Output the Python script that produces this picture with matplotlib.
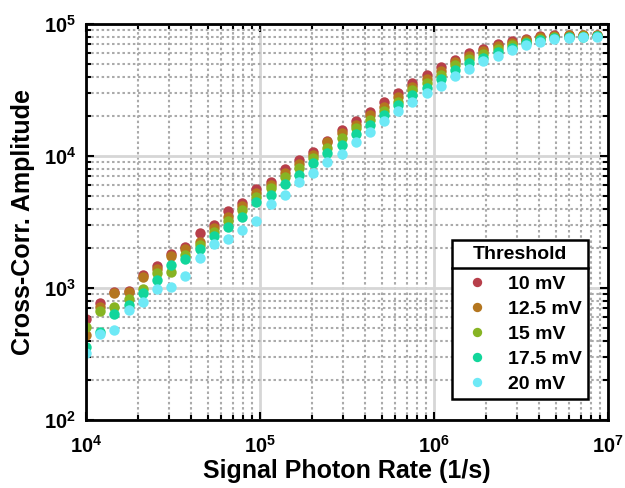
import numpy as np
import matplotlib
matplotlib.use("Agg")
import matplotlib.pyplot as plt
from matplotlib.lines import Line2D

plt.rcParams['font.family'] = ['Liberation Sans', 'DejaVu Sans']
plt.rcParams['font.weight'] = 'bold'
plt.rcParams['mathtext.fontset'] = 'custom'
plt.rcParams['mathtext.rm'] = 'Liberation Sans:bold'
plt.rcParams['mathtext.bf'] = 'Liberation Sans:bold'
plt.rcParams['mathtext.it'] = 'Liberation Sans:bold:italic'

# signal photon rate (1/s)
rates = [1.000e4, 1.207e4, 1.456e4, 1.757e4, 2.120e4, 2.559e4, 3.088e4, 3.726e4,
         4.496e4, 5.426e4, 6.546e4, 7.900e4, 9.533e4, 1.150e5, 1.388e5, 1.675e5,
         2.021e5, 2.439e5, 2.943e5, 3.551e5, 4.285e5, 5.171e5, 6.240e5, 7.530e5,
         9.087e5, 1.096e6, 1.323e6, 1.597e6, 1.927e6, 2.325e6, 2.805e6, 3.385e6,
         4.085e6, 4.930e6, 5.948e6, 7.178e6, 8.662e6]

# cross-correlation amplitude per threshold
amp_10 = [582, 764, 933, 955, 1254, 1460, 1810, 2056, 2612, 3000, 3828, 4385,
          5623, 6383, 7930, 9330, 10790, 13000, 15740, 18500, 21660, 25520,
          29850, 35550, 40740, 47240, 53830, 59800, 65200, 70500, 74300, 77620,
          81100, 82580, 82580, 82580, 82580]
amp_12_5 = [441, 718, 912, 933, 1211, 1393, 1762, 1972, 2230, 2831, 3467, 4178,
            5212, 6026, 7390, 8690, 10180, 12830, 14860, 17170, 20450, 23620,
            27860, 33500, 38110, 44430, 51520, 57240, 62400, 67600, 71800, 75640,
            79720, 81100, 81850, 81850, 81850]
amp_15 = [507, 670, 718, 826, 991, 1303, 1321, 1778, 2118, 2642, 3219, 3899,
          4920, 5692, 6900, 8070, 9610, 11430, 13620, 16220, 18750, 22030,
          25780, 31620, 35550, 41430, 48500, 54040, 59290, 64700, 69300, 73700,
          77620, 79720, 80420, 81100, 81100]
amp_17_5 = [357, 467, 635, 743, 916, 1159, 1493, 1652, 1958, 2477, 2884, 3467,
            4508, 5023, 6138, 7180, 8810, 10480, 12110, 14600, 17170, 20450,
            24330, 28970, 32580, 38300, 45190, 50350, 55720, 61360, 66370, 71800,
            75640, 78320, 79070, 80420, 80680]
amp_20 = [322, 446, 485, 676, 787, 975, 1026, 1239, 1702, 2155, 2339, 2748,
          3245, 4329, 5070, 6383, 7390, 9060, 10300, 12830, 15280, 18360,
          21930, 25780, 29850, 34200, 40180, 45820, 52180, 57240, 63530, 69300,
          73450, 76960, 77950, 79430, 80170]

labels = ["10 mV", "12.5 mV", "15 mV", "17.5 mV", "20 mV"]
colors = ["#B73F4A", "#B4761F", "#87B423", "#12D69B", "#6EE9F6"]
series = [amp_10, amp_12_5, amp_15, amp_17_5, amp_20]

fig = plt.figure(figsize=(6.25, 4.88), dpi=100)
ax = fig.add_axes([0.1376, 0.1393, 0.835, 0.8115])

for y, c, lab in zip(series, colors, labels):
    ax.plot(rates, y, 'o', color=c, markersize=7.5, markeredgewidth=0, label=lab)

ax.set_xscale('log')
ax.set_yscale('log')
ax.set_xlim(1e4, 1e7)
ax.set_ylim(1e2, 1e5)

ax.set_axisbelow(True)
ax.grid(which='major', color='#d6d6d6', linewidth=2.0, linestyle='-')
ax.grid(which='minor', color='#aaaaaa', linewidth=1.5, linestyle=(0, (1.2, 1.3)))

for s in ax.spines.values():
    s.set_linewidth(2.0)
ax.tick_params(which='both', direction='in', top=True, right=True, width=1.5)
ax.tick_params(which='major', length=6, labelsize=14.5)
ax.tick_params(axis='x', which='major', pad=11)
ax.tick_params(axis='y', which='major', pad=7)
ax.tick_params(which='minor', length=3.5)

ax.set_xlabel("Signal Photon Rate (1/s)", fontsize=18, fontweight='bold', labelpad=1)
ax.set_ylabel("Cross-Corr. Amplitude", fontsize=18, fontweight='bold', labelpad=6)

leg = ax.legend(title="Threshold", loc='lower right', bbox_to_anchor=(0.962, 0.053),
                borderaxespad=0,
                fontsize=14, title_fontproperties={'size': 14, 'weight': 'bold'},
                frameon=True, fancybox=False, edgecolor='black', framealpha=1,
                handletextpad=0.6, labelspacing=0.38, borderpad=0.3,
                handlelength=2.0, markerscale=0.9)
leg.get_frame().set_linewidth(1.8)
for t in leg.get_texts():
    t.set_fontweight('bold')
# extra gap between the title and the entries
leg._legend_box.sep = 9

# separator line under the legend title
fig.canvas.draw()
r = fig.canvas.get_renderer()
tb = leg.get_title().get_window_extent(r)
fb = leg.get_frame().get_window_extent(r)
inv = fig.transFigure.inverted()
yline = tb.y0 - 5
x0, yy = inv.transform((fb.x0, yline))
x1, _ = inv.transform((fb.x1, yline))
fig.add_artist(Line2D([x0, x1], [yy, yy], color='black', linewidth=1.8))

fig.savefig("out.png", dpi=100)
